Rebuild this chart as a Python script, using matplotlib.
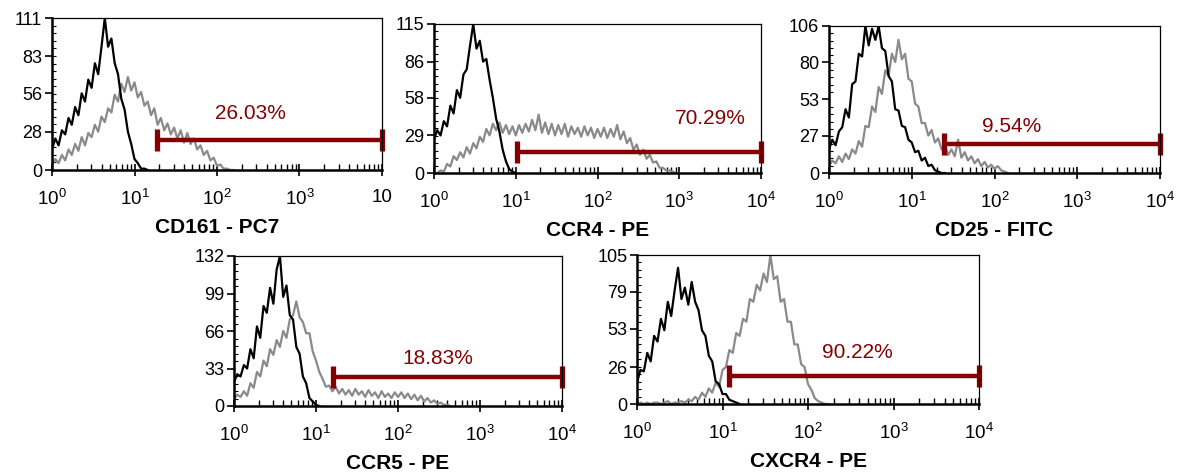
import numpy as np
import matplotlib
matplotlib.use("Agg")
import matplotlib.pyplot as plt
from matplotlib.ticker import FixedLocator, LogLocator, NullFormatter, MultipleLocator

plt.rcParams['font.family'] = ['Liberation Sans', 'DejaVu Sans']
plt.rcParams['mathtext.default'] = 'regular'

# histogram channels are spaced evenly in log10, this is the bin width in decades
CH_STEP = 0.04

# panel labels, y axis maxima, gate start, gate y, gate percentages
markers = ["CD161 - PC7", "CCR4 - PE", "CD25 - FITC", "CCR5 - PE", "CXCR4 - PE"]
y_max = [111, 115, 106, 132, 105]
y_ticks = [[0, 28, 56, 83, 111], [0, 29, 58, 86, 115], [0, 27, 53, 80, 106],
           [0, 33, 66, 99, 132], [0, 26, 53, 79, 105]]
gate_start = [18.9, 10.4, 24.5, 16.1, 11.9]
gate_y = [22, 16.2, 20.9, 25.5, 19.7]
gate_pct = ["26.03%", "70.29%", "9.54%", "18.83%", "90.22%"]
pct_pos = [(257, 41.6), (2400, 42.4), (162, 33.2), (309, 42.2), (380, 36.6)]

# isotype control (black) and stained (gray), counts per channel; (first log10, counts)
cd161_ctrl = (0.0, [15, 23, 18, 29, 26, 38, 33, 46, 40, 56, 50, 66, 60, 78, 70, 90, 111, 90, 96, 78,
                    70, 52, 44, 28, 19, 8, 5, 1, 1, 0])
cd161_stain = (0.0, [3, 8, 5, 11, 7, 15, 11, 19, 14, 24, 18, 27, 24, 33, 28, 39, 35, 45, 42, 55,
                     50, 63, 57, 68, 58, 64, 53, 57, 47, 50, 40, 45, 33, 38, 29, 34, 26, 31, 23, 29,
                     20, 27, 19, 23, 15, 18, 11, 14, 7, 9, 3, 4, 1, 1, 0, 0])
ccr4_ctrl = (0.0, [26, 33, 29, 40, 36, 52, 46, 64, 58, 76, 80, 98, 115, 96, 102, 86, 88, 72, 58, 42,
                   32, 18, 9, 3, 1, 0])
ccr4_stain = (0.04, [0, 2, 1, 7, 5, 13, 10, 16, 12, 20, 15, 23, 19, 28, 24, 34, 29, 38, 33, 39,
                     31, 37, 30, 36, 29, 37, 31, 38, 32, 41, 33, 45, 31, 39, 30, 38, 29, 37, 30, 38,
                     28, 36, 30, 35, 28, 36, 29, 35, 27, 34, 28, 35, 27, 34, 28, 37, 26, 32, 23, 27,
                     18, 22, 14, 18, 11, 14, 8, 9, 4, 4, 2, 2, 1, 0, 0])
cd25_ctrl = (0.0, [17, 24, 20, 30, 33, 46, 40, 64, 66, 86, 84, 106, 92, 104, 96, 106, 90, 88, 70, 66,
                   46, 45, 34, 33, 24, 22, 15, 16, 9, 11, 5, 6, 2, 1, 0, 0])
cd25_stain = (0.0, [5, 9, 7, 12, 8, 14, 10, 17, 14, 23, 19, 34, 33, 48, 44, 62, 57, 74, 70, 86,
                    80, 96, 82, 86, 68, 66, 50, 48, 36, 36, 27, 31, 22, 25, 17, 20, 13, 17, 12, 24,
                    11, 15, 9, 12, 7, 10, 5, 8, 4, 6, 3, 5, 2, 1, 0])
ccr5_ctrl = (0.0, [21, 28, 26, 36, 33, 50, 42, 70, 60, 88, 82, 104, 90, 120, 132, 96, 106, 80, 76, 52,
                   46, 26, 20, 7, 4, 1, 0])
ccr5_stain = (0.0, [6, 10, 8, 13, 9, 20, 16, 30, 26, 40, 35, 50, 45, 58, 52, 66, 60, 76, 80, 92,
                    78, 74, 64, 64, 48, 40, 30, 24, 17, 18, 13, 17, 11, 15, 10, 14, 9, 15, 10, 13,
                    8, 14, 9, 12, 7, 13, 8, 11, 7, 12, 8, 12, 7, 11, 6, 10, 5, 9, 4, 7,
                    3, 5, 2, 3, 1, 1, 0])
cxcr4_ctrl = (0.0, [15, 24, 23, 36, 30, 48, 44, 60, 52, 72, 62, 80, 96, 74, 82, 70, 86, 72, 66, 52,
                    48, 34, 30, 16, 14, 7, 7, 3, 2, 1, 0])
cxcr4_stain = (0.0, [0, 1, 0, 1, 0, 1, 1, 0, 1, 2, 0, 1, 1, 2, 1, 3, 2, 5, 3, 8,
                     5, 11, 8, 15, 12, 24, 26, 38, 36, 50, 48, 60, 58, 74, 72, 84, 80, 92, 86, 105,
                     88, 90, 72, 74, 58, 58, 42, 42, 28, 26, 14, 10, 4, 2, 1, 0, 0])

controls = [cd161_ctrl, ccr4_ctrl, cd25_ctrl, ccr5_ctrl, cxcr4_ctrl]
stains = [cd161_stain, ccr4_stain, cd25_stain, ccr5_stain, cxcr4_stain]

# axes boxes in pixels: left, right, top, bottom
W, H = 1177, 473
boxes = [(52, 382, 18, 170), (434, 761, 24, 173), (829, 1160, 26, 173),
         (234, 562, 256, 406), (637, 979, 255, 404)]

GATE_RED = "#850000"

fig = plt.figure(figsize=(W / 100, H / 100), dpi=100)

for i in range(5):
    l, r, t, b = boxes[i]
    ax = fig.add_axes([l / W, 1 - b / H, (r - l) / W, (b - t) / H])

    for (start, counts), col in ((stains[i], "#8a8a8a"), (controls[i], "black")):
        counts = np.array(counts)
        x = 10 ** (start + CH_STEP * np.arange(len(counts)))
        ax.plot(x, counts, color=col, lw=1.6)

    ax.plot([gate_start[i], 1e4], [gate_y[i], gate_y[i]], color=GATE_RED, lw=3.2,
            marker="|", ms=16, mew=3.8, clip_on=False, solid_capstyle="butt")
    ax.text(pct_pos[i][0], pct_pos[i][1], gate_pct[i], color=GATE_RED, fontsize=15,
            ha="center", va="center")

    ax.set_xscale("log")
    ax.set_xlim(1, 1e4)
    ax.set_ylim(0, y_max[i])

    ax.xaxis.set_major_locator(FixedLocator([1, 10, 100, 1000, 10000]))
    ax.xaxis.set_minor_locator(LogLocator(base=10, subs=np.arange(2, 10)))
    ax.xaxis.set_minor_formatter(NullFormatter())
    if i == 0:
        ax.set_xticklabels([r"$10^0$", r"$10^1$", r"$10^2$", r"$10^3$", "10"])
    else:
        ax.set_xticklabels([r"$10^0$", r"$10^1$", r"$10^2$", r"$10^3$", r"$10^4$"])
    ax.set_yticks(y_ticks[i])
    ax.yaxis.set_minor_locator(MultipleLocator(y_max[i] / 20))

    ax.tick_params(axis="x", which="major", direction="inout", length=9, width=1.2,
                   labelsize=13.5, pad=9)
    ax.tick_params(axis="x", which="minor", direction="in", length=4, width=1)
    ax.tick_params(axis="y", which="major", direction="out", length=5, width=1.2,
                   labelsize=13, pad=2)
    ax.tick_params(axis="y", which="minor", direction="in", length=3, width=0.8)

    for s in ("left", "bottom"):
        ax.spines[s].set_linewidth(1.8)
    for s in ("top", "right"):
        ax.spines[s].set_linewidth(0.9)

    ax.set_xlabel(markers[i], fontsize=15, fontweight="bold", labelpad=6.5)

fig.savefig("out.png", dpi=100)
